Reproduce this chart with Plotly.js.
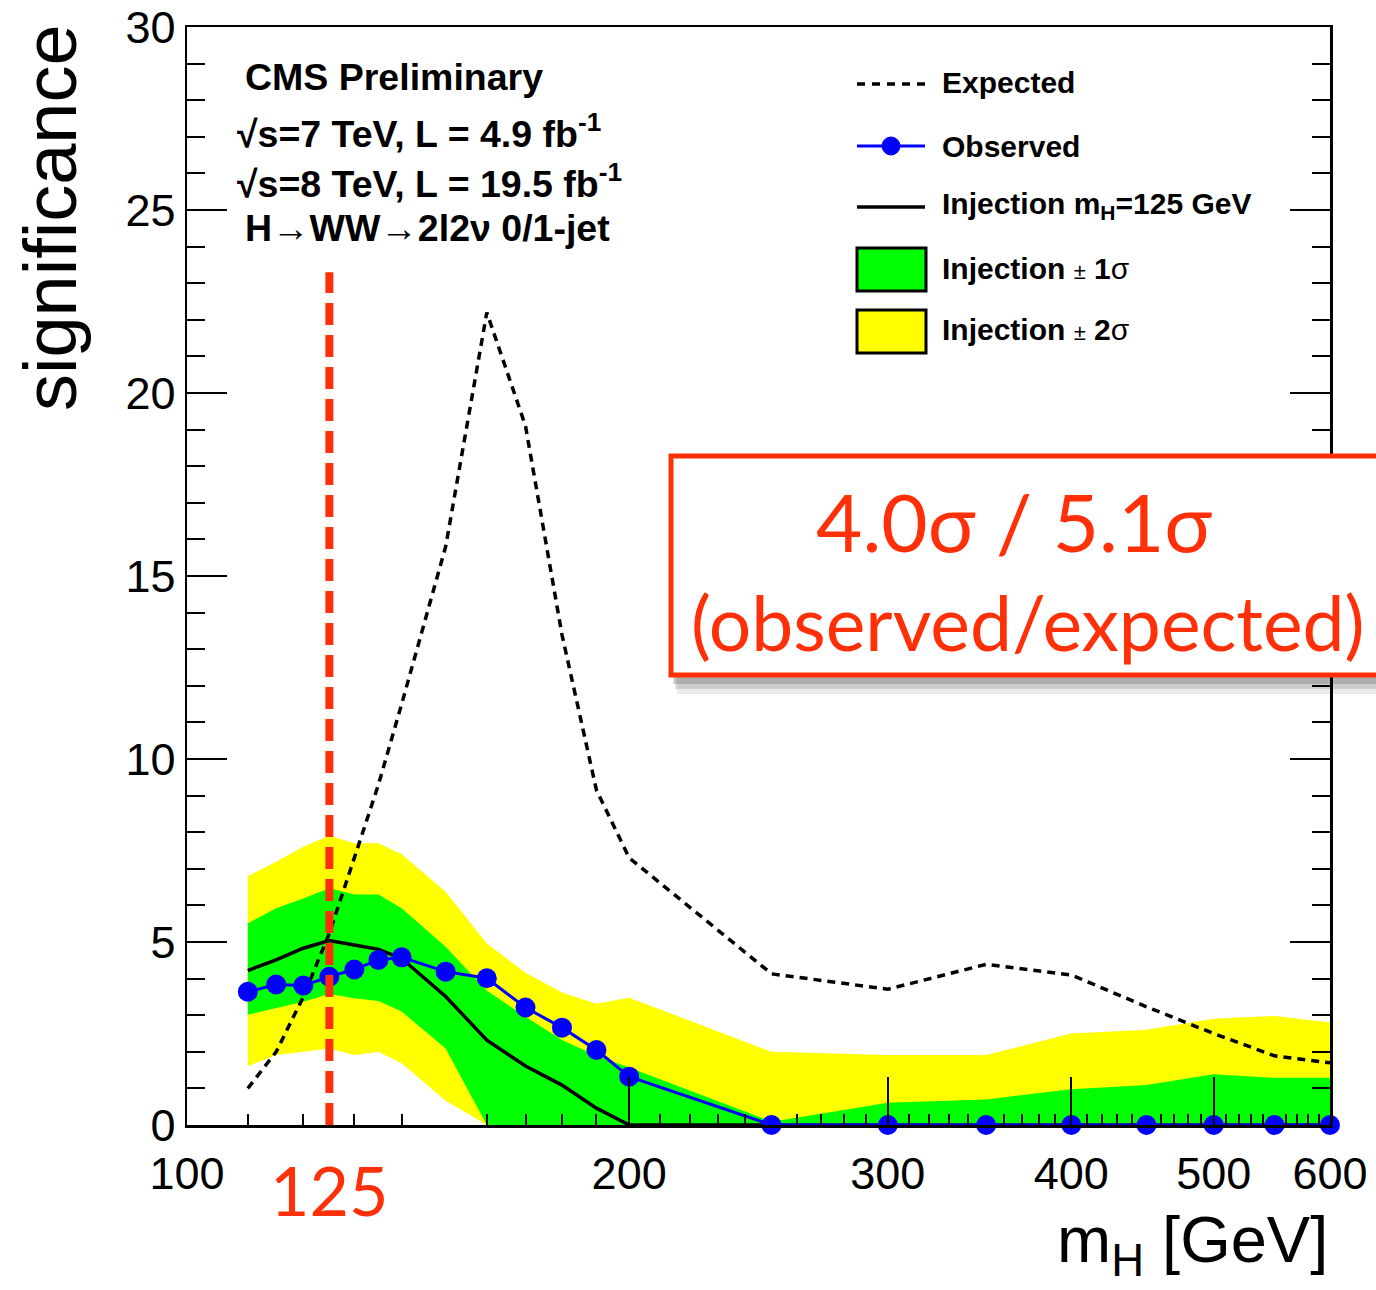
<!DOCTYPE html>
<html><head><meta charset="utf-8">
<script src="https://cdn.plot.ly/plotly-3.0.1.min.js"></script>
<style>html,body{margin:0;padding:0;background:#fff}#chart{width:1376px;height:1290px}</style>
</head><body><div id="chart"></div>
<script>
// ---- data ----
const massPoints   = [110,115,120,125,130,135,140,150,160,170,180,190,200,250,300,350,400,450,500,550,600];
const expectedSig  = [1.00,2.00,3.50,5.24,7.30,9.30,11.5,15.8,22.2,19.1,13.4,9.15,7.30,4.13,3.71,4.39,4.10,3.23,2.50,1.89,1.70];
const observedSig  = [3.64,3.84,3.81,4.05,4.25,4.51,4.58,4.19,4.01,3.21,2.66,2.05,1.32,0,0,0,0,0,0,0,0];
const injectionSig = [4.22,4.51,4.83,5.04,4.92,4.80,4.55,3.51,2.32,1.61,1.09,0.46,0,0,0,0,0,0,0,0,0];
const inj1SigUp    = [5.51,5.92,6.19,6.47,6.30,6.30,5.92,4.87,3.67,2.96,2.32,1.89,1.57,0.09,0.61,0.70,0.98,1.09,1.39,1.29,1.29];
const inj1SigDown  = [3.01,3.19,3.37,3.58,3.46,3.39,3.10,2.09,0,0,0,0,0,0,0,0,0,0,0,0,0];
const inj2SigUp    = [6.80,7.19,7.60,7.90,7.70,7.70,7.40,6.37,4.96,4.16,3.62,3.31,3.48,2.00,1.91,1.91,2.50,2.60,2.90,2.98,2.80];
const inj2SigDown  = [1.61,1.91,2.00,2.09,1.91,2.00,1.69,0.66,0,0,0,0,0,0,0,0,0,0,0,0,0];
const hypoMass     = [125,125];
const hypoSig      = [0,23.3];
const xTickVals    = [100,200,300,400,500,600];
const xTickText    = ['100','200','300','400','500','600'];
const xMidTicks    = [150,250,350,450,550];
const xMinorTicks  = [110,120,130,140,160,170,180,190,210,220,230,240,260,270,280,290,
                      310,320,330,340,360,370,380,390,410,420,430,440,460,470,480,490,
                      510,520,530,540,560,570,580,590];
const yTickVals    = [0,5,10,15,20,25,30];
const yTickText    = ['0','5','10','15','20','25','30'];

const RED = '#ff3008';
const HELV = '"Liberation Sans", Arial, Helvetica, sans-serif';
const GILL = 'Lato, "Open Sans", sans-serif';

const traces = [
  {x:massPoints, y:inj2SigDown, mode:'lines', line:{width:0, color:'#ffff00'}, hoverinfo:'skip', name:'2s down'},
  {x:massPoints, y:inj2SigUp, mode:'lines', line:{width:0, color:'#ffff00'}, fill:'tonexty', fillcolor:'#ffff00', name:'Injection \u00b1 2\u03c3'},
  {x:massPoints, y:inj1SigDown, mode:'lines', line:{width:0, color:'#00ff00'}, hoverinfo:'skip', name:'1s down'},
  {x:massPoints, y:inj1SigUp, mode:'lines', line:{width:0, color:'#00ff00'}, fill:'tonexty', fillcolor:'#00ff00', name:'Injection \u00b1 1\u03c3'},
  {x:massPoints, y:expectedSig, mode:'lines', line:{color:'#000', width:3.5, dash:'8px,6px'}, name:'Expected'},
  {x:massPoints, y:injectionSig, mode:'lines', line:{color:'#000', width:3.5}, name:'Injection m_H=125 GeV'},
  {x:massPoints, y:observedSig, mode:'lines+markers', line:{color:'#0000ff', width:3}, marker:{color:'#0000ff', size:20}, cliponaxis:false, name:'Observed'},
  {x:hypoMass, y:hypoSig, mode:'lines', line:{color:RED, width:8, dash:'22px,10px'}, cliponaxis:false, name:'mH=125'}
];

// pixel helpers for paper-referenced decorations
const L=187, R=1330, T=27, B=1125;
const px = v => (v-L)/(R-L);
const py = v => 1-(v-T)/(B-T);

const shapes = [
  // soft shadow of the red box
  {type:'rect', xref:'paper', yref:'paper', x0:px(677), x1:px(1400), y0:py(694), y1:py(472), fillcolor:'rgba(0,0,0,0.08)', line:{width:0}, layer:'above'},
  {type:'rect', xref:'paper', yref:'paper', x0:px(675), x1:px(1400), y0:py(689), y1:py(467), fillcolor:'rgba(0,0,0,0.12)', line:{width:0}, layer:'above'},
  {type:'rect', xref:'paper', yref:'paper', x0:px(673), x1:px(1400), y0:py(684), y1:py(462), fillcolor:'rgba(0,0,0,0.16)', line:{width:0}, layer:'above'},
  // red box
  {type:'rect', xref:'paper', yref:'paper', x0:px(671), x1:px(1400), y0:py(675), y1:py(456), fillcolor:'#ffffff', line:{color:RED, width:5}, layer:'above'},
  // legend glyphs
  {type:'line', xref:'paper', yref:'paper', x0:px(857), x1:px(925), y0:py(84), y1:py(84), line:{color:'#000', width:3.5, dash:'8px,7px'}, layer:'above'},
  {type:'line', xref:'paper', yref:'paper', x0:px(857), x1:px(925), y0:py(146), y1:py(146), line:{color:'#0000ff', width:3}, layer:'above'},
  {type:'circle', xref:'paper', yref:'paper', x0:px(882), x1:px(900), y0:py(137), y1:py(155), fillcolor:'#0000ff', line:{color:'#0000ff', width:1}, layer:'above'},
  {type:'line', xref:'paper', yref:'paper', x0:px(857), x1:px(925), y0:py(207), y1:py(207), line:{color:'#000', width:3.5}, layer:'above'},
  {type:'rect', xref:'paper', yref:'paper', x0:px(857), x1:px(926), y0:py(291), y1:py(248), fillcolor:'#00ff00', line:{color:'#000', width:3}, layer:'above'},
  {type:'rect', xref:'paper', yref:'paper', x0:px(857), x1:px(926), y0:py(353), y1:py(310), fillcolor:'#ffff00', line:{color:'#000', width:3}, layer:'above'}
];

const legFont = {family:HELV, size:30, color:'#000'};
const txtFont = {family:HELV, size:37.5, color:'#000'};
const ann = (x,y,text,font,opts) => Object.assign({xref:'paper', yref:'paper', x:x, y:y, text:text, showarrow:false, font:font, xanchor:'left', yanchor:'middle'}, opts||{});

const annotations = [
  ann(px(50), py(218), 'significance', {family:HELV, size:74, color:'#000'}, {textangle:-90, xanchor:'center'}),
  ann(1, py(1244), 'm<sub>H</sub> [GeV]', {family:HELV, size:65, color:'#000'}, {xanchor:'right'}),
  {xref:'x', yref:'paper', x:Math.log10(125), y:py(1189), text:'125', showarrow:false, font:{family:GILL, size:68, color:RED}, xanchor:'center', yanchor:'middle'},
  ann(px(243), py(77), '<b>CMS Preliminary</b>', txtFont),
  ann(px(235), py(131), '<b>\u221as=7 TeV, L = 4.9 fb<sup>-1</sup></b>', txtFont),
  ann(px(235), py(181), '<b>\u221as=8 TeV, L = 19.5 fb<sup>-1</sup></b>', txtFont),
  ann(px(243), py(228), '<b>H\u2192WW\u21922l2\u03bd 0/1-jet</b>', txtFont),
  ann(px(940), py(83), '<b>Expected</b>', legFont),
  ann(px(940), py(146), '<b>Observed</b>', legFont),
  ann(px(940), py(205), '<b>Injection m<sub>H</sub>=125 GeV</b>', legFont),
  ann(px(940), py(269), '<b>Injection</b> <span style="font-size:22px">\u00b1</span> <b>1</b>\u03c3', legFont),
  ann(px(940), py(330), '<b>Injection</b> <span style="font-size:22px">\u00b1</span> <b>2</b>\u03c3', legFont),
  ann(px(1014), py(521), '4.0\u03c3 / 5.1\u03c3', {family:GILL, size:80, color:RED}, {xanchor:'center'}),
  ann(px(1028), py(622), '(observed/expected)', {family:GILL, size:75, color:RED}, {xanchor:'center'})
];

const layout = {
  width:1376, height:1290,
  margin:{l:L, r:1376-R, t:T, b:1290-B, pad:0},
  paper_bgcolor:'#ffffff', plot_bgcolor:'#ffffff',
  showlegend:false,
  font:{family:HELV, color:'#000'},
  xaxis:{type:'log', range:[2, Math.log10(600)], tickmode:'array', tickvals:xTickVals, ticktext:xTickText,
         ticks:'inside', ticklen:48, tickwidth:2, tickcolor:'#000', showline:true, linecolor:'#000', linewidth:2.5,
         mirror:true, showgrid:false, zeroline:false, tickfont:{family:HELV, size:45, color:'#000'}, ticklabelstandoff:7,
         minor:{tickmode:'array', tickvals:xMinorTicks, ticks:'inside', ticklen:11, tickwidth:2, tickcolor:'#000', showgrid:false}},
  xaxis2:{type:'log', range:[2, Math.log10(600)], overlaying:'x', anchor:'y', side:'bottom', tickmode:'array', tickvals:xMidTicks,
          ticks:'inside', ticklen:23, tickwidth:2, tickcolor:'#000', showticklabels:false, showgrid:false, zeroline:false, showline:false},
  yaxis:{range:[0,30], tickmode:'array', tickvals:yTickVals, ticktext:yTickText, ticks:'inside', ticklen:40, tickwidth:2, tickcolor:'#000',
         showline:true, linecolor:'#000', linewidth:2.5, mirror:'ticks', showgrid:false, zeroline:false,
         tickfont:{family:HELV, size:45, color:'#000'}, ticklabelstandoff:0,
         minor:{tickmode:'linear', tick0:0, dtick:1, ticks:'inside', ticklen:18, tickwidth:2, tickcolor:'#000', showgrid:false}},
  shapes:shapes,
  annotations:annotations
};

Plotly.newPlot('chart', traces, layout, {staticPlot:true, displayModeBar:false});
</script>
</body></html>
